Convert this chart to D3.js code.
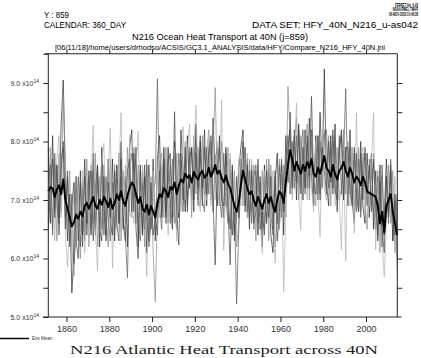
<!DOCTYPE html>
<html><head><meta charset="utf-8">
<script src="https://cdn.jsdelivr.net/npm/d3@7"></script>
<style>html,body{margin:0;padding:0;background:#fff;} svg{display:block;}</style>
</head><body><svg id="c" width="421" height="358"></svg>
<script>
// ---- data (units of 1e14 W), annual means plotted at mid-year ----
const years = d3.range(1851.5, 2015, 1); // 1851.5 ... 2014.5
const xTickYears = [1860, 1880, 1900, 1920, 1940, 1960, 1980, 2000];
const yTickValues = [5.0, 5.5, 6.0, 6.5, 7.0, 7.5, 8.0, 8.5, 9.0, 9.5];
const yLabelValues = [5.0, 6.0, 7.0, 8.0, 9.0];
const yExponent = "14";

const memberA = [
7.90,6.60,8.10,6.80,7.60,6.70,8.30,9.05,7.30,6.30,
7.10,5.41,6.10,7.40,6.30,7.50,6.40,7.70,6.60,7.50,
6.40,7.80,6.50,7.60,6.20,7.90,6.90,6.30,7.70,6.70,
7.70,6.30,7.60,6.60,8.00,6.50,7.40,6.20,7.90,8.20,
6.80,7.90,6.20,7.60,6.40,7.40,6.10,7.60,6.50,7.70,
6.30,7.70,8.10,6.70,7.90,6.80,7.90,7.00,6.50,8.00,
7.00,6.70,8.20,7.50,6.80,8.10,7.20,7.90,6.80,8.30,
7.00,8.00,7.20,8.20,6.90,7.90,7.10,8.40,7.40,6.90,
8.10,7.10,6.70,7.90,7.00,6.50,7.60,6.30,6.70,7.50,
7.90,8.20,6.90,7.70,6.50,7.60,6.50,7.50,6.40,7.40,
6.20,7.60,6.60,7.70,6.40,6.10,7.30,7.80,6.50,7.60,
6.40,8.10,7.30,8.50,7.30,8.20,7.00,8.30,7.40,7.00,
8.20,7.20,8.40,7.40,6.90,8.10,7.10,8.50,7.50,9.24,
7.30,6.90,8.10,7.20,8.30,6.80,7.80,8.20,7.00,7.90,
6.90,8.20,7.00,6.60,7.80,6.80,8.00,6.90,6.60,7.80,
6.70,7.70,6.50,7.50,6.30,7.60,6.20,6.70,7.70,6.80,
7.60,6.30,7.00,6.00];

const memberB = [
6.60,7.90,6.50,7.60,6.30,7.80,6.80,8.80,7.60,6.50,
7.50,6.20,5.70,7.40,6.60,6.00,7.30,6.40,7.70,6.20,
7.60,6.60,7.80,6.20,7.40,6.50,7.60,6.80,6.20,7.70,
6.40,7.60,6.70,7.80,6.30,7.50,6.60,7.90,6.80,6.70,
7.90,6.60,7.60,6.70,7.50,6.20,7.70,6.40,7.40,6.10,
5.26,6.80,7.60,7.80,6.70,7.90,6.60,7.60,6.90,6.60,
7.80,6.80,7.70,6.90,8.00,7.00,7.80,6.70,8.10,7.10,
7.90,6.90,8.10,7.10,7.80,8.20,7.00,7.90,8.92,7.20,
6.90,8.00,7.60,6.90,7.90,6.80,6.40,7.50,6.20,6.60,
7.70,6.90,7.90,6.70,7.70,6.80,7.60,6.30,7.50,6.70,
7.50,6.50,7.70,6.30,7.60,6.80,6.20,6.70,7.70,6.80,
7.60,6.70,8.94,8.10,7.10,8.00,8.40,7.20,8.10,7.00,
7.90,8.30,7.00,8.00,7.20,6.90,8.10,7.10,7.90,8.20,
7.20,8.10,6.90,8.00,7.10,7.90,7.00,7.20,8.20,7.10,
8.00,7.10,7.90,6.80,7.10,7.90,6.80,7.80,7.00,6.50,
7.70,6.90,7.80,6.70,7.50,6.10,7.40,6.40,6.70,7.60,
6.60,7.50,6.10,6.90];

const memberC = [
7.30,7.60,6.40,7.80,6.90,6.60,7.70,7.90,6.70,7.50,
6.30,7.10,5.90,6.40,7.40,6.20,7.20,6.30,7.10,7.40,
6.50,7.50,6.40,7.40,6.60,7.60,6.40,7.40,6.70,6.30,
7.30,6.40,7.60,6.60,7.40,6.70,6.40,5.67,7.50,7.80,
7.50,7.70,6.70,6.30,7.30,6.50,7.60,6.20,6.60,7.20,
7.30,9.07,6.90,6.50,7.60,6.70,7.50,6.60,7.70,6.80,
6.50,7.80,7.00,6.80,7.70,6.90,7.90,7.00,7.70,8.00,
6.90,7.80,7.00,6.80,7.90,7.10,8.00,6.80,7.70,7.90,
7.10,6.70,7.80,7.00,6.60,7.70,6.40,6.80,5.22,6.50,
7.30,7.60,7.90,6.80,7.50,6.60,7.40,7.60,6.60,7.30,
6.50,7.40,6.60,7.50,6.80,6.40,7.40,6.60,7.60,6.70,
7.40,7.70,8.10,7.10,8.00,7.20,8.10,7.00,7.80,8.20,
7.10,8.00,7.20,8.20,7.10,7.90,7.00,8.00,7.20,8.10,
8.20,7.20,7.90,7.10,8.00,7.20,8.10,7.10,7.80,8.90,
7.10,7.90,7.00,7.80,6.80,7.70,6.70,7.60,7.80,6.90,
7.50,7.80,6.80,6.50,7.40,6.70,7.60,6.40,7.40,6.60,
7.70,6.70,6.40,7.10];

const memberD = [
7.80,7.90,7.40,6.30,7.70,8.10,6.70,7.60,6.40,5.86,
6.60,6.00,7.30,6.20,7.20,6.40,7.50,6.10,7.30,6.50,
7.40,8.28,6.50,5.80,7.10,7.70,7.97,6.50,7.50,8.23,
5.84,7.30,6.50,7.50,8.49,6.70,7.60,6.60,8.11,6.90,
6.60,7.50,8.18,6.40,7.60,6.80,5.69,7.40,6.70,7.50,
6.60,7.50,6.70,7.60,6.80,7.70,6.40,7.30,7.50,7.90,
6.29,7.60,6.80,8.25,7.00,7.80,8.30,6.90,7.90,8.62,
7.10,6.80,8.00,7.20,7.00,8.10,6.90,7.80,7.00,8.00,
7.20,8.70,6.14,7.60,6.80,7.80,6.90,6.60,6.80,7.70,
6.90,7.90,7.00,7.80,6.80,7.70,6.50,7.40,7.60,6.60,
6.09,7.50,6.80,7.70,6.60,7.50,5.92,7.40,6.50,7.50,
5.43,6.80,7.60,7.90,7.00,7.80,8.66,7.10,6.49,8.00,
7.90,7.00,8.10,7.20,6.80,8.00,7.20,6.37,8.10,7.20,
7.00,7.90,7.20,8.10,6.90,7.80,7.00,6.15,7.70,5.95,
7.80,6.90,7.90,6.43,8.49,6.80,7.70,7.90,6.78,7.60,
6.90,7.60,8.49,6.15,7.30,6.60,6.30,5.69,6.60,7.40,
7.30,6.50,7.40,5.80];

const memberE = [
6.50,7.20,7.70,6.70,7.60,6.40,7.50,8.00,6.50,7.40,
6.20,6.90,7.30,6.30,6.00,7.30,6.20,7.40,6.40,7.20,
7.50,6.30,7.20,7.60,6.50,6.30,7.40,6.40,7.30,6.60,
6.40,7.50,6.60,6.30,7.70,6.60,6.30,7.50,7.70,6.80,
7.80,6.50,6.00,7.50,6.40,7.60,6.70,6.30,7.30,6.40,
6.70,6.40,7.50,6.80,7.70,6.60,7.60,7.80,6.70,8.51,
6.80,6.23,7.80,7.00,7.90,6.80,7.70,7.90,7.00,7.80,
7.20,8.10,6.90,7.90,7.10,7.80,8.10,7.00,5.89,7.60,
7.90,7.00,6.90,7.80,6.80,5.89,7.50,6.40,7.40,6.70,
7.50,8.00,6.80,7.60,6.70,7.50,6.60,6.80,7.70,6.50,
6.80,6.40,7.50,6.70,7.40,6.50,7.50,6.30,6.80,7.70,
6.80,7.50,7.90,8.20,7.20,8.10,7.30,8.20,7.10,7.90,
7.20,8.10,7.40,8.77,7.30,7.10,8.10,7.00,7.90,7.50,
7.10,8.00,7.30,8.20,7.20,7.00,7.90,8.10,7.00,7.90,
7.90,7.20,6.90,7.90,7.10,6.80,7.80,7.00,7.90,7.10,
7.60,6.80,7.70,6.90,6.40,7.30,6.50,6.10,7.40,6.70,
7.50,6.30,7.10,6.40];

const ensMean = [
7.15,7.22,7.20,7.05,7.18,7.25,7.10,7.35,7.00,6.85,
6.70,6.55,6.62,6.75,6.68,6.80,6.72,6.90,6.95,6.85,
6.95,7.05,6.90,6.85,7.00,6.92,7.05,6.98,6.88,7.02,
6.85,6.95,7.10,7.00,7.15,6.98,6.90,7.08,7.20,7.30,
7.25,7.10,6.95,7.05,6.85,6.80,6.92,6.75,6.90,6.80,
6.70,6.95,7.10,7.05,7.20,7.15,7.05,7.22,7.18,7.30,
7.10,7.25,7.35,7.30,7.45,7.38,7.42,7.30,7.48,7.40,
7.35,7.45,7.50,7.38,7.42,7.55,7.40,7.48,7.60,7.45,
7.50,7.38,7.30,7.42,7.28,7.20,7.05,6.90,6.80,6.95,
7.25,7.50,7.35,7.20,7.10,7.15,7.00,6.90,7.05,6.95,
6.85,7.00,7.10,6.95,7.05,6.90,6.80,7.00,7.15,7.10,
6.95,7.30,7.60,7.85,7.70,7.50,7.65,7.55,7.45,7.60,
7.50,7.65,7.55,7.70,7.45,7.40,7.55,7.45,7.60,7.75,
7.55,7.50,7.40,7.60,7.45,7.35,7.50,7.55,7.65,7.50,
7.40,7.55,7.45,7.30,7.40,7.35,7.25,7.40,7.30,7.15,
7.12,7.10,7.08,7.05,6.90,6.60,6.80,6.45,6.90,7.00,
7.10,6.80,6.60,6.40];

const members = [memberA, memberB, memberC, memberD, memberE];
const memberColors = ["#2a2a2a", "#8a8a8a", "#5a5a5a", "#b0b0b0", "#444444"];

// ---- layout ----
const svg = d3.select("#c");
svg.append("rect").attr("width", 421).attr("height", 358).attr("fill", "#fff");

const x = d3.scaleLinear().domain([1851.5, 2014.6]).range([48.3, 397.3]);
const y = d3.scaleLinear().domain([5.0, 9.0]).range([317, 83]);
const yTop = y(9.5);

const font = "'Liberation Sans', Arial, sans-serif";

// data lines
const line = d3.line().x((d, i) => x(years[i])).y(d => y(d));
members.forEach((m, k) => {
  svg.append("path").datum(m).attr("d", line)
    .attr("fill", "none").attr("stroke", memberColors[k])
    .attr("stroke-width", 0.7).attr("stroke-linejoin", "round");
});
svg.append("path").datum(ensMean).attr("d", line)
  .attr("fill", "none").attr("stroke", "#000")
  .attr("stroke-width", 2).attr("stroke-linejoin", "round");

// frame
const ax = svg.append("g").attr("stroke", "#222").attr("stroke-width", 1).attr("fill", "none");
ax.append("line").attr("x1", 43).attr("x2", 401.5).attr("y1", y(5)).attr("y2", y(5));
ax.append("line").attr("x1", 45).attr("x2", x(2014.6)).attr("y1", yTop).attr("y2", yTop);
ax.append("line").attr("x1", x(1851.5)).attr("x2", x(1851.5)).attr("y1", yTop).attr("y2", y(5));
ax.append("line").attr("x1", x(2014.6)).attr("x2", x(2014.6)).attr("y1", yTop).attr("y2", y(5));

// axes via d3 axis generators (ticks only; domain path removed)
function styleAxis(g) { g.select(".domain").remove(); g.selectAll(".tick line").attr("stroke", "#222"); }
svg.append("g").attr("transform", `translate(0,${y(5)})`)
  .call(d3.axisBottom(x).tickValues(xTickYears).tickSize(5).tickPadding(4).tickFormat(d3.format("d")))
  .call(styleAxis)
  .call(g => g.selectAll("text").attr("font-family", font).attr("font-size", 9).attr("fill", "#333"));
svg.append("g").attr("transform", `translate(0,${yTop})`)
  .call(d3.axisTop(x).tickValues(xTickYears).tickSize(4).tickFormat(""))
  .call(styleAxis);
svg.append("g").attr("transform", `translate(${x(1851.5)},0)`)
  .call(d3.axisLeft(y).tickValues(yTickValues).tickSize(5).tickFormat(""))
  .call(styleAxis);
svg.append("g").attr("transform", `translate(${x(2014.6)},0)`)
  .call(d3.axisRight(y).tickValues(yTickValues.filter(v => v > 5 && v < 9.5)).tickSize(5).tickFormat(""))
  .call(styleAxis);

// y labels with exponent
const yl = svg.append("g").attr("font-family", font).attr("fill", "#333");
yLabelValues.forEach(v => {
  const t = yl.append("text").attr("x", 39).attr("y", y(v) + 2.5).attr("text-anchor", "end").attr("font-size", 7);
  t.append("tspan").text(d3.format(".1f")(v) + " x10");
  t.append("tspan").attr("dy", -3).attr("font-size", 5).text(yExponent);
});

// header texts
function txt(s, xx, yy, size, anchor, len) {
  const t = svg.append("text").attr("x", xx).attr("y", yy).attr("font-family", font)
    .attr("font-size", size).attr("text-anchor", anchor || "start").attr("fill", "#000").text(s);
  if (len) t.attr("textLength", len).attr("lengthAdjust", "spacingAndGlyphs");
  return t;
}
txt("Y : 859", 44, 18, 8.5, "start", 25);
txt("CALENDAR: 360_DAY", 44, 28, 8.5, "start", 82);
txt("DATA SET: HFY_40N_N216_u-as042", 418, 28, 8.5, "end", 166);
txt("N216 Ocean Heat Transport at 40N (j=859)", 220, 40, 8.5, "middle", 176);
txt("[06/11/18]/home/users/drhodso/ACSIS/GC3.1_ANALYSIS/data/HFY/Compare_N216_HFY_40N.jnl", 220, 50, 6.5, "middle", 330);

// tiny stamp, condensed by a horizontal scale
const stamp = ["FERRET Ver. 6.93", "NOAA/PMEL TMAP", "06-NOV-2018 10:46:28"];
stamp.forEach((s, i) => {
  svg.append("g").attr("transform", `translate(418,${7 + i * 4.3}) scale(0.62,1)`)
    .append("text").attr("x", 0).attr("y", 0).attr("text-anchor", "end")
    .attr("font-family", font).attr("font-size", 4.5).attr("font-weight", "bold").attr("fill", "#000").text(s);
});

// legend
svg.append("line").attr("x1", 0).attr("x2", 29).attr("y1", 338.5).attr("y2", 338.5).attr("stroke", "#000").attr("stroke-width", 1.5);
txt("Ens Mean", 32, 340, 4.5, "start").attr("fill", "#333");

// bottom title
svg.append("text").attr("x", 224).attr("y", 354).attr("text-anchor", "middle")
  .attr("font-family", "'Liberation Serif', 'Times New Roman', serif").attr("font-size", 13.5)
  .attr("textLength", 308).attr("lengthAdjust", "spacingAndGlyphs").attr("fill", "#222")
  .text("N216 Atlantic Heat Transport across 40N");
</script></body></html>
